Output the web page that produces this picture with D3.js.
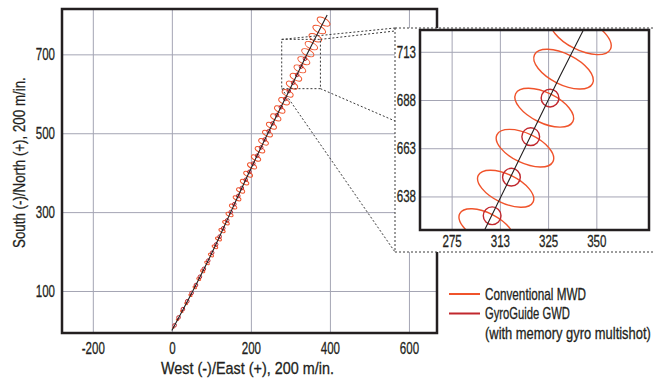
<!DOCTYPE html>
<html>
<head>
<meta charset="utf-8">
<script src="https://cdn.jsdelivr.net/npm/d3@7"></script>
<style>
  body { margin: 0; background: #fff; }
  text { font-family: "Liberation Sans", Arial, sans-serif; fill: #231f20; stroke: #231f20; stroke-width: 0.3px; }
</style>
</head>
<body>
<svg id="chart"></svg>
<script>
// survey stations, conventional MWD (ellipse centres and semi axes, metres)
const mwdNorth = [7, 27, 48, 68, 89, 109, 130, 150, 171, 191, 212, 232, 253, 273, 294, 314, 335, 355, 376, 396,
  417, 437, 458, 478, 499, 519, 540, 560, 581, 601, 622, 642, 663, 684, 704, 722, 742, 763, 783];
const mwdEast = [4, 14, 25, 36, 47, 58, 68, 78, 89, 99, 109, 118, 127, 137, 146, 155, 165, 174, 184, 193,
  203, 213, 223, 232, 242, 252, 263, 273, 284, 293, 304, 314, 324, 334, 344, 353, 363, 373, 384];
const mwdMajor = [2, 3, 3.5, 4, 4.5, 5, 5.5, 6, 6.5, 7, 7.5, 8, 8.5, 9, 9.5, 10, 10.5, 11, 11.5, 12,
  12.3, 12.6, 12.9, 13.2, 13.5, 13.8, 14.1, 14.4, 14.7, 15, 15.5, 15.8, 16.1, 16.5, 16.8, 17.1, 17.4, 17.7, 18];
const mwdMinor = [1, 1.4, 1.6, 1.9, 2.1, 2.3, 2.6, 2.8, 3, 3.3, 3.5, 3.8, 4, 4.2, 4.5, 4.7, 4.9, 5.2, 5.4, 5.6,
  5.8, 5.9, 6.1, 6.2, 6.3, 6.5, 6.6, 6.8, 6.9, 7.1, 7.3, 7.4, 7.6, 7.8, 7.9, 8, 8.2, 8.3, 8.5];

// GyroGuide GWD stations
const gyroNorth = [13, 33, 54, 74, 95, 115, 136, 156, 177, 197, 218, 238, 259, 279, 300, 320, 341, 361, 382, 402,
  423, 443, 464, 484, 505, 525, 546, 566, 587, 607, 628, 648, 669, 689];
const gyroEast = [7, 17, 28, 39, 50, 61, 71, 81, 92, 102, 112, 121, 130, 140, 149, 158, 168, 177, 187, 196,
  206, 216, 226, 235, 245, 255, 266, 276, 287, 296, 307, 317, 327, 337];
const gyroRadius = 4.6;

// well path
const pathNorth = [0, 100, 200, 300, 400, 500, 600, 700, 800];
const pathEast = [0, 53, 103, 149, 195, 243, 293, 342, 393];

// ticks
const xTicks = [-200, 0, 200, 400, 600];
const yTicks = [100, 300, 500, 700];
const insetXTicks = [286, 311, 336, 361];
const insetXLabels = ["275", "313", "325", "350"];
const insetYTicks = [638, 663, 688, 713];
const insetYLabels = ["638", "663", "688", "713"];

// zoomed window shown in the inset
const zoomEast = [278, 376];
const zoomNorth = [613, 738];

const legendLabels = ["Conventional MWD", "GyroGuide GWD", "(with memory gyro multishot)"];
const xTitle = "West (-)/East (+), 200 m/in.";
const yTitle = "South (-)/North (+), 200 m/in.";

const W = 653, H = 380;
const MWD = "#f0532b", GWD = "#c1272d", GRID = "#a4a5b4", DOTS = "#3a3a3a";
const TICK_SQ = 0.68; // horizontal squeeze for the condensed tick digits

const svg = d3.select("#chart").attr("width", W).attr("height", H);

const plot = { left: 62, top: 9, right: 437, bottom: 333 };
const x = d3.scaleLinear().domain([-278, 671]).range([plot.left, plot.right]);
const y = d3.scaleLinear().domain([-6.5, 815]).range([plot.bottom, plot.top]);

const inset = { left: 420, top: 30, right: 649, bottom: 230 };
const ix = d3.scaleLinear().domain([269.6, 388.3]).range([inset.left, inset.right]);
const iy = d3.scaleLinear().domain([620.6, 724.3]).range([inset.bottom, inset.top]);

function squeeze(sel, sx) {
  sel.each(function () {
    const t = d3.select(this);
    const tx = +t.attr("x") || 0, ty = +t.attr("y") || 0;
    t.attr("x", 0).attr("y", 0).attr("transform", `translate(${tx},${ty}) scale(${sx},1)`);
  });
}

// squeeze a text so it spans a given width
function fitText(t, tx, ty, width, rot) {
  const w = t.node().getComputedTextLength();
  t.attr("transform", `translate(${tx},${ty})${rot ? ` rotate(${rot})` : ""} scale(${width / w},1)`);
}

function tilt(i) {
  const a = Math.max(0, i - 1), b = Math.min(mwdNorth.length - 1, i + 1);
  const phi = Math.atan2(mwdNorth[b] - mwdNorth[a], mwdEast[b] - mwdEast[a]) * 180 / Math.PI;
  return 90 - phi;
}

function gridLines(g, sx, sy, xt, yt, box) {
  g.append("g").attr("transform", `translate(0,${box.bottom})`)
    .call(d3.axisBottom(sx).tickValues(xt).tickSize(-(box.bottom - box.top)).tickFormat(""))
    .call(s => s.select(".domain").remove())
    .selectAll("line").attr("stroke", GRID).attr("stroke-width", 1);
  g.append("g").attr("transform", `translate(${box.left},0)`)
    .call(d3.axisLeft(sy).tickValues(yt).tickSize(-(box.right - box.left)).tickFormat(""))
    .call(s => s.select(".domain").remove())
    .selectAll("line").attr("stroke", GRID).attr("stroke-width", 1);
}

function drawSurvey(g, sx, sy, sw) {
  const k = Math.abs(sx(1) - sx(0));
  g.append("g").selectAll("ellipse").data(mwdNorth).join("ellipse")
    .attr("cx", (d, i) => sx(mwdEast[i]))
    .attr("cy", d => sy(d))
    .attr("rx", (d, i) => mwdMajor[i] * k)
    .attr("ry", (d, i) => mwdMinor[i] * k)
    .attr("transform", (d, i) => `rotate(${tilt(i)},${sx(mwdEast[i])},${sy(d)})`)
    .attr("fill", "none").attr("stroke", MWD).attr("stroke-width", sw);

  g.append("g").selectAll("circle").data(gyroNorth).join("circle")
    .attr("cx", (d, i) => sx(gyroEast[i]))
    .attr("cy", d => sy(d))
    .attr("r", gyroRadius * k)
    .attr("fill", "none").attr("stroke", GWD).attr("stroke-width", sw);

  const line = d3.line().x(d => sx(d[0])).y(d => sy(d[1])).curve(d3.curveCatmullRom);
  g.append("path").datum(pathEast.map((e, i) => [e, pathNorth[i]]))
    .attr("d", line).attr("fill", "none").attr("stroke", "#231f20").attr("stroke-width", 1.1);
}

function styleTicks(a) {
  a.select(".domain").remove();
  a.selectAll("text").style("font-size", "17px").attr("fill", "#231f20");
  squeeze(a.selectAll("text"), TICK_SQ);
}

// main plot
gridLines(svg.append("g"), x, y, xTicks, yTicks, plot);
drawSurvey(svg.append("g"), x, y, 1);

svg.append("rect")
  .attr("x", plot.left).attr("y", plot.top)
  .attr("width", plot.right - plot.left).attr("height", plot.bottom - plot.top)
  .attr("fill", "none").attr("stroke", "#231f20").attr("stroke-width", 2.5);

const xAxis = svg.append("g").attr("transform", `translate(0,${plot.bottom})`)
  .call(d3.axisBottom(x).tickValues(xTicks).tickSize(0).tickPadding(9).tickFormat(d3.format("d")));
const yAxis = svg.append("g").attr("transform", `translate(${plot.left},0)`)
  .call(d3.axisLeft(y).tickValues(yTicks).tickSize(0).tickPadding(7));
styleTicks(xAxis);
styleTicks(yAxis);
xAxis.selectAll("text").text(d => d < 0 ? "-" + Math.abs(d) : d);

fitText(svg.append("text").text(xTitle).style("font-size", "17px"), 161, 374, 173);
fitText(svg.append("text").text(yTitle).style("font-size", "17px"), 25, 248, 171, -90);

// zoom window and leader lines
const zx0 = x(zoomEast[0]), zx1 = x(zoomEast[1]), zy0 = y(zoomNorth[1]), zy1 = y(zoomNorth[0]);
const frame = { left: 395, top: 28, right: 656, bottom: 252 };
const leaders = [
  [[zx0, zy0], [frame.left, frame.top]],
  [[zx1, zy0], [frame.left, 31]],
  [[zx1, zy1], [frame.left, 121]],
  [[zx0, zy1], [frame.left, frame.bottom]]
];
svg.append("g").selectAll("line").data(leaders).join("line")
  .attr("x1", d => d[0][0]).attr("y1", d => d[0][1])
  .attr("x2", d => d[1][0]).attr("y2", d => d[1][1])
  .attr("stroke", DOTS).attr("stroke-width", 1).attr("stroke-dasharray", "2,2");
svg.append("rect")
  .attr("x", zx0).attr("y", zy0).attr("width", zx1 - zx0).attr("height", zy1 - zy0)
  .attr("fill", "none").attr("stroke", DOTS).attr("stroke-width", 1).attr("stroke-dasharray", "2,2");

// inset
svg.append("rect")
  .attr("x", frame.left).attr("y", frame.top)
  .attr("width", frame.right - frame.left).attr("height", frame.bottom - frame.top)
  .attr("fill", "#fff").attr("stroke", DOTS).attr("stroke-width", 1).attr("stroke-dasharray", "2,2");

svg.append("clipPath").attr("id", "inset-clip").append("rect")
  .attr("x", inset.left).attr("y", inset.top)
  .attr("width", inset.right - inset.left).attr("height", inset.bottom - inset.top);

const ig = svg.append("g").attr("clip-path", "url(#inset-clip)");
gridLines(ig, ix, iy, insetXTicks, insetYTicks, inset);
drawSurvey(ig, ix, iy, 1.4);

svg.append("rect")
  .attr("x", inset.left).attr("y", inset.top)
  .attr("width", inset.right - inset.left).attr("height", inset.bottom - inset.top)
  .attr("fill", "none").attr("stroke", "#231f20").attr("stroke-width", 2.5);

const ixAxis = svg.append("g").attr("transform", `translate(0,${inset.bottom})`)
  .call(d3.axisBottom(ix).tickValues(insetXTicks).tickSize(0).tickPadding(5)
    .tickFormat((d, i) => insetXLabels[i]));
const iyAxis = svg.append("g").attr("transform", `translate(${inset.left},0)`)
  .call(d3.axisLeft(iy).tickValues(insetYTicks).tickSize(0).tickPadding(4)
    .tickFormat((d, i) => insetYLabels[i]));
styleTicks(ixAxis);
styleTicks(iyAxis);

// legend
const legendWidths = [101, 85, 166];
const legend = svg.append("g").attr("transform", "translate(449,294)");
[MWD, GWD].forEach((c, i) => {
  legend.append("line").attr("x1", 0).attr("x2", 31).attr("y1", i * 19.5).attr("y2", i * 19.5)
    .attr("stroke", c).attr("stroke-width", 2);
});
legendLabels.forEach((d, i) => {
  const t = legend.append("text").text(d).attr("dy", "0.36em").style("font-size", "16px");
  fitText(t, 36, i * 19.5, legendWidths[i]);
});
</script>
</body>
</html>
